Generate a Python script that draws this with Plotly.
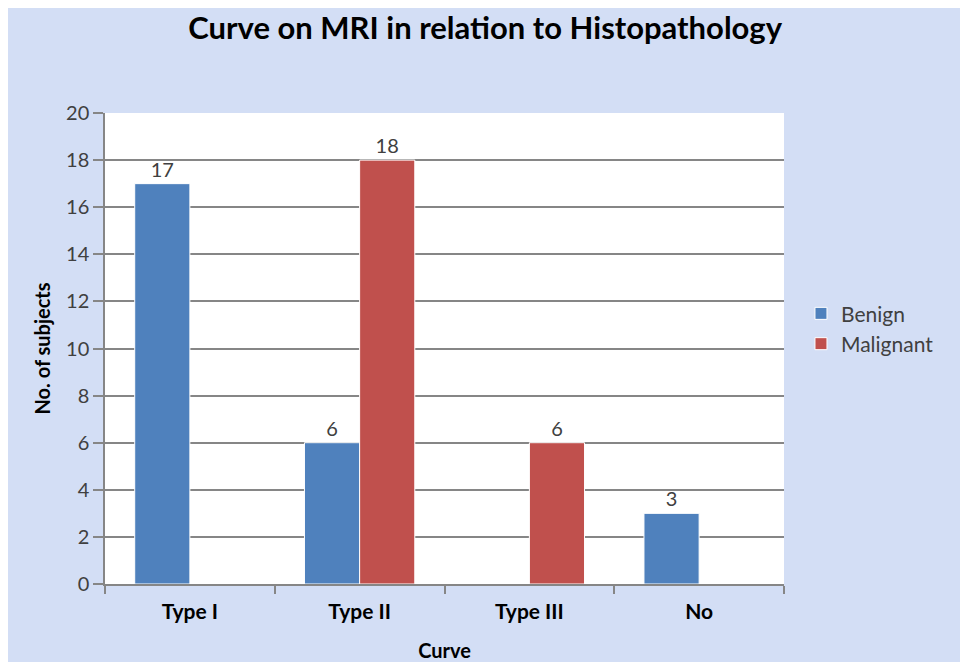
import plotly.graph_objects as go

categories = ["Type I", "Type II", "Type III", "No"]
benign = [17, 6, 0, 3]
malignant = [0, 18, 6, 0]
y_ticks = [0, 2, 4, 6, 8, 10, 12, 14, 16, 18, 20]

FONT = "Lato, 'Open Sans', sans-serif"

def labels(vals):
    return [str(v) if v else "" for v in vals]

fig = go.Figure()
fig.add_trace(go.Bar(
    name="Benign", x=categories, y=benign, text=labels(benign),
    textposition="outside", cliponaxis=False,
    textfont=dict(size=20, color="#404040", family=FONT),
    marker=dict(color="#4F81BD", line=dict(color="white", width=1)),
))
fig.add_trace(go.Bar(
    name="Malignant", x=categories, y=malignant, text=labels(malignant),
    textposition="outside", cliponaxis=False,
    textfont=dict(size=20, color="#404040", family=FONT),
    marker=dict(color="#C0504D", line=dict(color="white", width=1)),
))

fig.update_layout(
    width=960, height=654,
    margin=dict(l=97, r=184, t=105, b=78),
    paper_bgcolor="#d3def5",
    plot_bgcolor="white",
    barmode="group", bargap=0.35, bargroupgap=0.0,
    font=dict(family=FONT, color="#404040"),
    title=dict(text="<b>Curve on MRI in relation to Histopathology</b>",
               x=0.497, xref="container", xanchor="center", y=0.969, yanchor="middle",
               font=dict(size=31, color="black", family=FONT)),
    legend=dict(x=1.025, y=0.542, xanchor="left", yanchor="middle",
                font=dict(size=21, color="#404040", family=FONT),
                bgcolor="rgba(0,0,0,0)", itemwidth=30, tracegroupgap=2),
    xaxis=dict(
        title=dict(text="<b>Curve</b>", font=dict(size=20, color="black"), standoff=36),
        tickfont=dict(size=21, color="black"),
        tickprefix="<b>", ticksuffix="</b>",
        ticklabelstandoff=8,
        automargin=False,
        showline=True, linecolor="#868686", linewidth=1.5,
        ticks="outside", tickson="boundaries", ticklen=8, tickcolor="#868686", tickwidth=1.5,
        showgrid=False,
    ),
    yaxis=dict(
        title=dict(text="<b>No. of subjects</b>", font=dict(size=20, color="black"), standoff=10),
        range=[0, 20], tickvals=y_ticks,
        tickfont=dict(size=20, color="#404040"),
        automargin=False,
        showline=True, linecolor="#868686", linewidth=1.5,
        ticks="outside", ticklen=10, tickcolor="#868686", tickwidth=1.5,
        showgrid=True, gridcolor="#868686", gridwidth=1.5,
        zeroline=False,
    ),
)

fig.write_html("out.html")
